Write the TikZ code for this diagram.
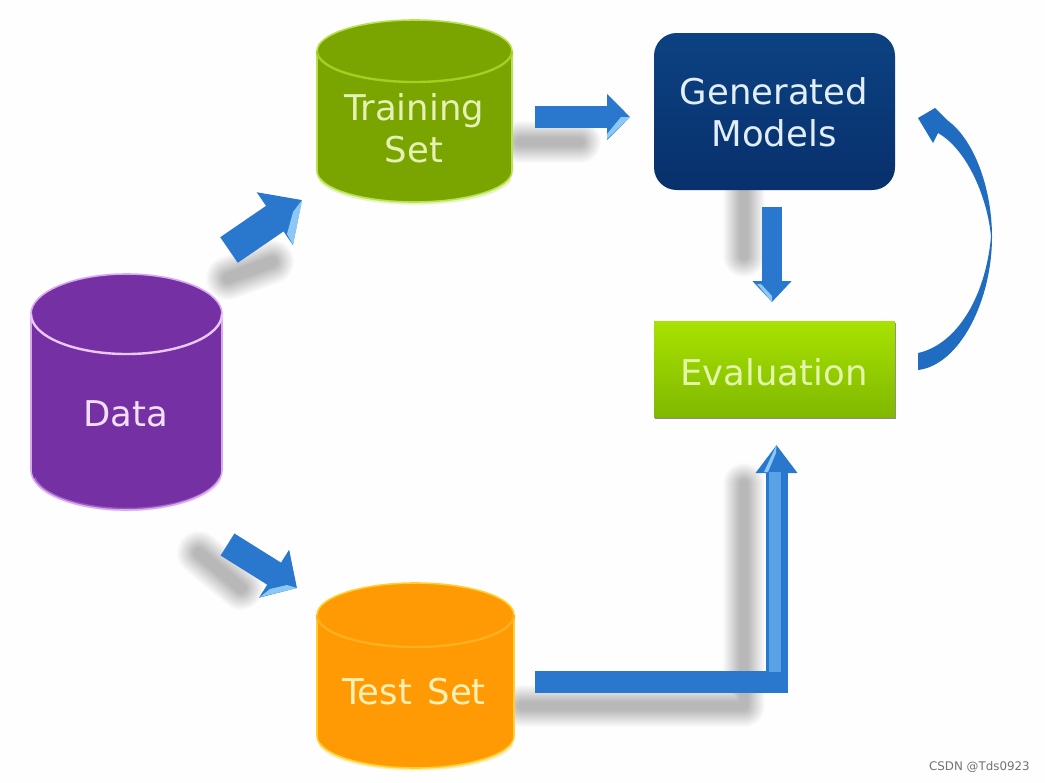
\documentclass[tikz,border=0pt]{standalone}
\usepackage{fontspec}
\setmainfont{DejaVu Sans}
\usetikzlibrary{arrows.meta,calc}
\definecolor{paper}{HTML}{FEFEFE}
\definecolor{arrowblue}{HTML}{2A78CE}
\definecolor{arrowlight}{HTML}{8CC8F6}
\definecolor{arrowmid}{HTML}{5AA2E6}
\definecolor{curveblue}{HTML}{1F6CC0}
\definecolor{pBody}{HTML}{7530A3}
\definecolor{pRim}{HTML}{EAC8FA}
\definecolor{pEdge}{HTML}{D8A8F0}
\definecolor{gBody}{HTML}{7AA400}
\definecolor{gRim}{HTML}{A4CF20}
\definecolor{gEdge}{HTML}{B8E050}
\definecolor{oBody}{HTML}{FF9A05}
\definecolor{oRim}{HTML}{FBB020}
\definecolor{oEdge}{HTML}{FFD030}
\definecolor{navyTop}{RGB}{12,66,130}
\definecolor{navyBot}{RGB}{8,48,108}
\definecolor{evalTop}{RGB}{168,226,0}
\definecolor{evalBot}{RGB}{128,184,0}
\tikzset{
  px/.style={x=0.75pt,y=-0.75pt},
  label text/.style={font=\fontsize{26.6}{31.5}\selectfont,align=center,inner sep=0pt,outer sep=0pt},
  softshadow/.style={draw=black,line cap=round,line join=round,opacity=0.016},
}
\newcommand{\softline}[2]{%
  \foreach \ww in {0,2,...,34}{%
    \draw[softshadow,line width=#2*0.75pt+\ww*0.75pt] #1;%
  }%
}
\newcommand{\blockarrow}[5]{%
  \draw[draw=arrowblue,line width=#3*0.75pt,
    -{Triangle[width=#4*0.75pt,length=#5*0.75pt,fill=arrowblue]}] (#1) -- (#2);%
}
% left, right, top centre y, bottom centre y, ry, body, rim, edge
\newcommand{\dbcyl}[8]{%
  \pgfmathsetmacro{\cx}{(#1+#2)/2}\pgfmathsetmacro{\rx}{(#2-#1)/2}%
  \fill[#6,draw=#8,line width=1.2pt] (#1,#3) -- (#1,#4) arc[start angle=180,end angle=0,x radius=\rx,y radius=#5]
     -- (#2,#3) arc[start angle=0,end angle=-180,x radius=\rx,y radius=#5] -- cycle;
  \draw[#7,line width=1.8pt] (#1,#3) arc[start angle=180,end angle=0,x radius=\rx,y radius=#5];
  \draw[#8,opacity=0.35,line width=2.5pt] (#1+3,#4+8) arc[start angle=170,end angle=10,x radius=\rx-1,y radius=#5-2];
}
\begin{document}
\begin{tikzpicture}[px]
\useasboundingbox (0,0) rectangle (1045,782);
\fill[paper] (0,0) rectangle (1045,782);

% soft shadows
\softline{(228,278) -- (272,262)}{10}
\softline{(199,553) -- (241,588)}{10}
\softline{(520,142) -- (580,142)}{8}
\softline{(744,192) -- (744,256)}{8}
\softline{(522,706) -- (744,706) -- (744,484)}{8}

% cylinders
\dbcyl{31}{222}{314}{470}{40}{pBody}{pRim}{pEdge}
\dbcyl{317}{512}{51}{171}{31}{gBody}{gRim}{gEdge}
\dbcyl{317}{514}{615}{736}{32}{oBody}{oRim}{oEdge}

% boxes
\shade[rounded corners=17pt,top color=navyTop,bottom color=navyBot] (654,33) rectangle (895,190);
\fill[black!45] (654.5,323) rectangle (896,419);
\shade[top color=evalTop,bottom color=evalBot] (654,321) rectangle (895,417);

% labels
\node[label text,text={rgb,255:red,242;green,224;blue,250}] (data) at (126,414) {Data};
\node[label text,text={rgb,255:red,230;green,242;blue,180}] (train) at (414,128) {Training\\Set};
\node[label text,text={rgb,255:red,255;green,240;blue,180}] (test) at (414,692) {Test\hspace{0.12em} Set};
\node[label text,text={rgb,255:red,226;green,238;blue,250}] (models) at (774,112) {Generated\\Models};
\node[label text,text={rgb,255:red,228;green,246;blue,170}] (eval) at (774,372) {Evaluation};

% connector ends
\coordinate (dtA) at (229,250);  \coordinate (dtB) at (302,200);
\coordinate (dsA) at (227.5,544.5); \coordinate (dsB) at (297,588);
\coordinate (tmA) at (535,117);  \coordinate (tmB) at (630,117);
\coordinate (meA) at (772,207);  \coordinate (meB) at (772,302);
\coordinate (seA) at (535,682);  \coordinate (seC) at (776.5,682); \coordinate (seB) at (776.5,445);
\coordinate (emA) at (918,370);  \coordinate (emB) at (918,118);

\blockarrow{dtA}{dtB}{31}{62}{33}
\blockarrow{dsA}{dsB}{26}{55}{27}
\blockarrow{tmA}{tmB}{22}{45}{23}
\blockarrow{meA}{meB}{20}{38}{21}
\draw[draw=arrowblue,line width=22*0.75pt,line join=miter,
  -{Triangle[width=40*0.75pt,length=28*0.75pt,fill=arrowblue]}] (seA) -- (seC) -- (seB);

% bevel highlights
\fill[arrowlight] (302,200) -- (293,245) -- (287,234) -- (293,212) -- cycle;
\fill[arrowlight] (297,588) -- (260,597) -- (270,589) -- (287,585) -- cycle;
\fill[arrowlight] (630,117) -- (607,139) -- (607,134) -- (621,117) -- cycle;
\fill[arrowlight] (772,302) -- (757,284) -- (761,284) -- (772,296) -- cycle;
\fill[arrowlight] (776.5,445) -- (764,472) -- (768,472) -- (776,453) -- cycle;
\fill[arrowmid] (769,472) -- (781,472) -- (781,672) -- (769,672) -- cycle;

% curved feedback arrow
\fill[curveblue] (emA) -- (918,353)
   .. controls (955,345) and (985,300) .. (991,237)
   .. controls (988,200) and (968,150) .. (938,133)
   -- (933,143) -- (emB) -- (935,108) -- (947,120)
   .. controls (975,140) and (992,190) .. (992,237)
   .. controls (992,300) and (960,365) .. (emA) -- cycle;

% watermark
\node[inner sep=0pt,font=\fontsize{8.9}{10}\selectfont,text=black!55,anchor=east] (mark) at (1030,767) {CSDN @Tds0923};
\end{tikzpicture}
\end{document}
